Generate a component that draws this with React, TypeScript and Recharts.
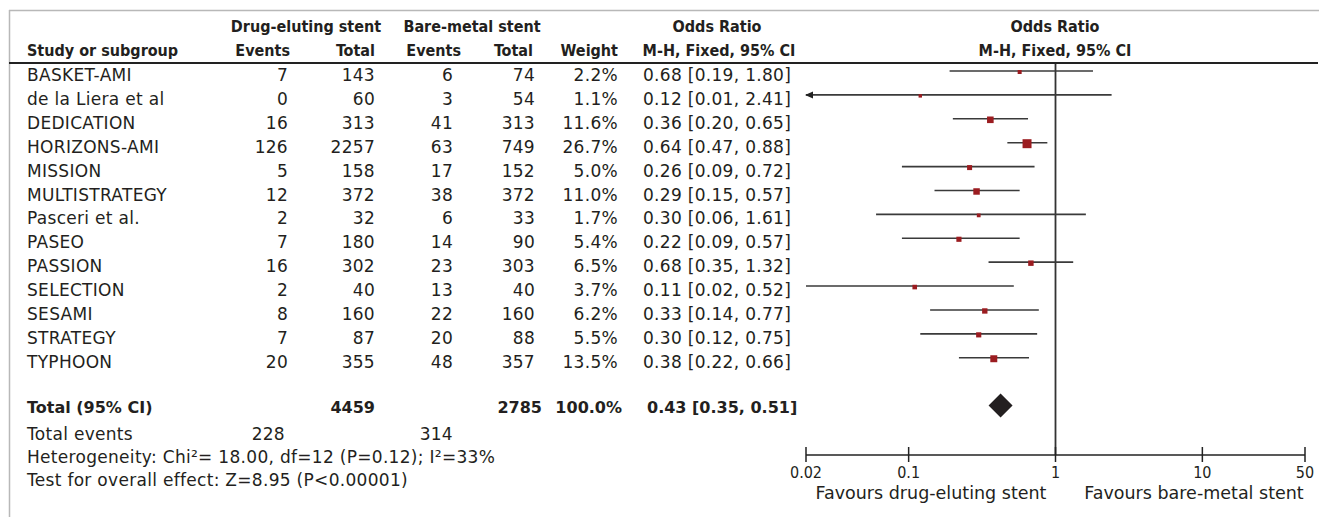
import React from "react";
import { ComposedChart, ReferenceArea, ReferenceLine, Scatter, XAxis, YAxis } from "recharts";

const studies = [
  "BASKET-AMI",
  "de la Liera et al",
  "DEDICATION",
  "HORIZONS-AMI",
  "MISSION",
  "MULTISTRATEGY",
  "Pasceri et al.",
  "PASEO",
  "PASSION",
  "SELECTION",
  "SESAMI",
  "STRATEGY",
  "TYPHOON",
];
const desEvents = [7, 0, 16, 126, 5, 12, 2, 7, 16, 2, 8, 7, 20];
const desTotal = [143, 60, 313, 2257, 158, 372, 32, 180, 302, 40, 160, 87, 355];
const bmsEvents = [6, 3, 41, 63, 17, 38, 6, 14, 23, 13, 22, 20, 48];
const bmsTotal = [74, 54, 313, 749, 152, 372, 33, 90, 303, 40, 160, 88, 357];
const weights = [2.2, 1.1, 11.6, 26.7, 5.0, 11.0, 1.7, 5.4, 6.5, 3.7, 6.2, 5.5, 13.5];
const orValues = [0.68, 0.12, 0.36, 0.64, 0.26, 0.29, 0.3, 0.22, 0.68, 0.11, 0.33, 0.3, 0.38];
const ciLower = [0.19, 0.01, 0.2, 0.47, 0.09, 0.15, 0.06, 0.09, 0.35, 0.02, 0.14, 0.12, 0.22];
const ciUpper = [1.8, 2.41, 0.65, 0.88, 0.72, 0.57, 1.61, 0.57, 1.32, 0.52, 0.77, 0.75, 0.66];
// where the squares sit in the figure (BASKET-AMI is drawn left of its printed OR)
const markerOr = [0.57, 0.12, 0.36, 0.64, 0.26, 0.29, 0.3, 0.22, 0.68, 0.11, 0.33, 0.3, 0.38];

const pooled = { or: 0.43, lo: 0.35, hi: 0.51 };
const totals = { desTotal: 4459, bmsTotal: 2785, desEvents: 228, bmsEvents: 314, weight: "100.0%" };
const heterogeneity = "Heterogeneity: Chi\u00b2= 18.00, df=12 (P=0.12); I\u00b2=33%";
const overallTest = "Test for overall effect: Z=8.95 (P<0.00001)";
const axisTicks = [0.02, 0.1, 1, 10, 50];
const xDomain: [number, number] = [0.02, 50];
const totalRow = 14;

const W = 1319;
const H = 517;
const ink = "#231f20";
const bodyFont = "'DejaVu Sans', sans-serif";
const headFont = "'DejaVu Sans Condensed', 'Liberation Sans Narrow', 'DejaVu Sans', sans-serif";
const narrowFont = "'Liberation Sans Narrow', 'DejaVu Sans Condensed', 'Liberation Sans', sans-serif";

const rowBase = (i: number) => 81 + i * 23.9;
const fmt = (v: number) => v.toFixed(2);

const rows = studies.map((name, i) => ({
  name,
  row: i,
  or: markerOr[i],
  lo: ciLower[i],
  hi: ciUpper[i],
  weight: weights[i],
}));

function Txt({ x, y, anchor = "start", kind = "body", children }: any) {
  const style: any =
    kind === "head"
      ? { fontFamily: headFont, fontWeight: 700, fontSize: 16, fontStretch: "condensed" }
      : kind === "bold"
      ? { fontFamily: bodyFont, fontWeight: 700, fontSize: 16 }
      : { fontFamily: bodyFont, fontSize: 17, letterSpacing: 0.3 };
  return (
    <text x={x} y={y} textAnchor={anchor} fill={ink} style={style}>
      {children}
    </text>
  );
}

function AxisTick({ x, y, payload }: any) {
  return (
    <g>
      <line x1={x} x2={x} y1={y - 8} y2={y + 7} stroke="#222" strokeWidth={1.5} />
      <text x={x} y={y + 23} textAnchor="middle" fill={ink} style={{ fontFamily: narrowFont, fontSize: 16 }}>
        {String(payload.value)}
      </text>
    </g>
  );
}

function WeightSquare({ cx, cy, payload }: any) {
  const s = 2 + 1.35 * Math.sqrt(payload.weight);
  return <rect x={cx - s / 2} y={cy - s / 2 + 1} width={s} height={s} fill="#9b1c20" />;
}

function CiLine({ x1, y1, x2, y2, leftArrow }: any) {
  return (
    <g>
      <line x1={x1} y1={y1} x2={x2} y2={y2} stroke="#3a3a3a" strokeWidth={1.6} />
      {leftArrow && (
        <polygon points={`${x1 - 1},${y1} ${x1 + 7},${y1 - 3.5} ${x1 + 7},${y1 + 3.5}`} fill="#222" />
      )}
    </g>
  );
}

function Diamond({ x, y, width, height }: any) {
  const pts = [
    [x, y + height / 2],
    [x + width / 2, y],
    [x + width, y + height / 2],
    [x + width / 2, y + height],
  ]
    .map((p) => p.join(","))
    .join(" ");
  return <polygon points={pts} fill="#231f20" />;
}

function Table() {
  const cols = { name: 27, desEv: 288, desTot: 375, bmsEv: 453, bmsTot: 535, weight: 618, orText: 643 };
  return (
    <svg width={W} height={H} style={{ position: "absolute", left: 0, top: 0 }}>
      <line x1={9} x2={W} y1={10.5} y2={10.5} stroke="#b8b8b8" strokeWidth={1.5} />
      <line x1={9.5} x2={9.5} y1={10} y2={H} stroke="#b8b8b8" strokeWidth={1.5} />
      <line x1={9} x2={1318} y1={63} y2={63} stroke="#222" strokeWidth={1.8} />

      <Txt x={306} y={32} anchor="middle" kind="head">Drug-eluting stent</Txt>
      <Txt x={472} y={32} anchor="middle" kind="head">Bare-metal stent</Txt>
      <Txt x={717} y={32} anchor="middle" kind="head">Odds Ratio</Txt>
      <Txt x={1055} y={32} anchor="middle" kind="head">Odds Ratio</Txt>
      <Txt x={cols.name} y={56} kind="head">Study or subgroup</Txt>
      <Txt x={290} y={56} anchor="end" kind="head">Events</Txt>
      <Txt x={375} y={56} anchor="end" kind="head">Total</Txt>
      <Txt x={461} y={56} anchor="end" kind="head">Events</Txt>
      <Txt x={533} y={56} anchor="end" kind="head">Total</Txt>
      <Txt x={618} y={56} anchor="end" kind="head">Weight</Txt>
      <Txt x={719} y={56} anchor="middle" kind="head">M-H, Fixed, 95% CI</Txt>
      <Txt x={1055} y={56} anchor="middle" kind="head">M-H, Fixed, 95% CI</Txt>

      {studies.map((name, i) => (
        <g key={name}>
          <Txt x={cols.name} y={rowBase(i)}>{name}</Txt>
          <Txt x={cols.desEv} y={rowBase(i)} anchor="end">{desEvents[i]}</Txt>
          <Txt x={cols.desTot} y={rowBase(i)} anchor="end">{desTotal[i]}</Txt>
          <Txt x={cols.bmsEv} y={rowBase(i)} anchor="end">{bmsEvents[i]}</Txt>
          <Txt x={cols.bmsTot} y={rowBase(i)} anchor="end">{bmsTotal[i]}</Txt>
          <Txt x={cols.weight} y={rowBase(i)} anchor="end">{weights[i].toFixed(1)}%</Txt>
          <Txt x={cols.orText} y={rowBase(i)}>
            {`${fmt(orValues[i])} [${fmt(ciLower[i])}, ${fmt(ciUpper[i])}]`}
          </Txt>
        </g>
      ))}

      <Txt x={cols.name} y={413} kind="bold">Total (95% CI)</Txt>
      <Txt x={cols.desTot} y={413} anchor="end" kind="bold">{totals.desTotal}</Txt>
      <Txt x={542} y={413} anchor="end" kind="bold">{totals.bmsTotal}</Txt>
      <Txt x={622} y={413} anchor="end" kind="bold">{totals.weight}</Txt>
      <Txt x={647} y={413} kind="bold">{`${fmt(pooled.or)} [${fmt(pooled.lo)}, ${fmt(pooled.hi)}]`}</Txt>

      <Txt x={cols.name} y={440}>Total events</Txt>
      <Txt x={285} y={440} anchor="end">{totals.desEvents}</Txt>
      <Txt x={cols.bmsEv} y={440} anchor="end">{totals.bmsEvents}</Txt>
      <Txt x={cols.name} y={463}>{heterogeneity}</Txt>
      <Txt x={cols.name} y={486}>{overallTest}</Txt>

      <text x={931} y={499} textAnchor="middle" fill={ink} style={{ fontFamily: bodyFont, fontSize: 17.5 }}>
        Favours drug-eluting stent
      </text>
      <text x={1194} y={499} textAnchor="middle" fill={ink} style={{ fontFamily: bodyFont, fontSize: 17.5 }}>
        Favours bare-metal stent
      </text>
    </svg>
  );
}

export default function App() {
  return (
    <div style={{ position: "absolute", left: 0, top: 0, width: W, height: H, background: "#fff" }}>
      <ComposedChart width={W} height={H} data={rows} margin={{ top: 63, right: 14, bottom: 32, left: 806 }}>
        <XAxis
          type="number"
          dataKey="or"
          scale="log"
          domain={xDomain}
          ticks={axisTicks}
          interval={0}
          allowDataOverflow
          height={30}
          axisLine={{ stroke: "#222", strokeWidth: 1.5 }}
          tickLine={false}
          tickSize={0}
          tickMargin={0}
          tick={<AxisTick />}
        />
        <YAxis type="number" dataKey="row" domain={[-0.335, 16.07]} reversed hide width={0} allowDataOverflow />
        <ReferenceLine x={1} stroke="#333" strokeWidth={1.8} />
        {rows.map((r) => (
          <ReferenceLine
            key={r.name}
            segment={[
              { x: Math.max(r.lo, xDomain[0]), y: r.row },
              { x: Math.min(r.hi, xDomain[1]), y: r.row },
            ]}
            shape={(p: any) => <CiLine {...p} leftArrow={r.lo < xDomain[0]} />}
          />
        ))}
        <Scatter data={rows} dataKey="or" shape={(p: any) => <WeightSquare {...p} />} isAnimationActive={false} />
        <ReferenceArea
          x1={pooled.lo}
          x2={pooled.hi}
          y1={totalRow - 0.5}
          y2={totalRow + 0.5}
          shape={(p: any) => <Diamond {...p} />}
        />
      </ComposedChart>
      <Table />
    </div>
  );
}
